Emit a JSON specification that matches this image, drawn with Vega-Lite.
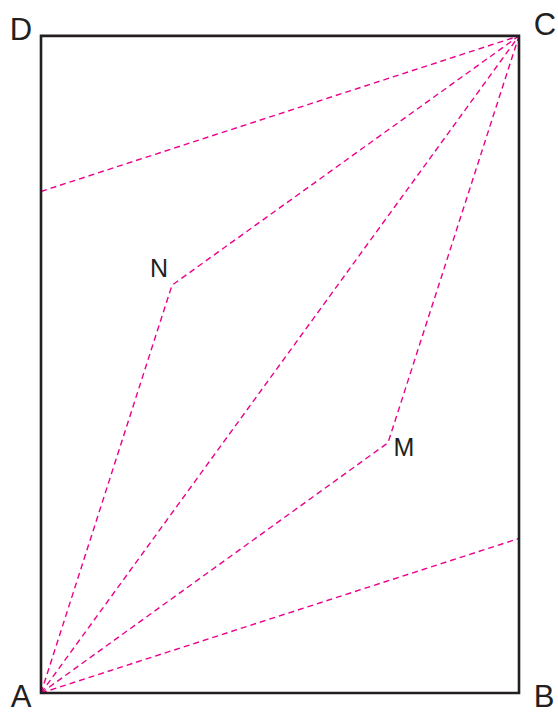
{
  "$schema": "https://vega.github.io/schema/vega-lite/v6.json",
  "autosize": {"type": "fit", "contains": "padding"},
  "width": 558,
  "height": 713,
  "padding": 0,
  "background": "white",
  "config": {"view": {"stroke": null}},
  "datasets": {
    "shapes": [
      {"seg": "rect", "ord": 1, "x": 0, "y": 0},
      {"seg": "rect", "ord": 2, "x": 478, "y": 0},
      {"seg": "rect", "ord": 3, "x": 478, "y": 659},
      {"seg": "rect", "ord": 4, "x": 0, "y": 659},
      {"seg": "rect", "ord": 5, "x": 0, "y": 0}
    ],
    "dashes": [
      {"seg": "PC", "ord": 1, "x": 0, "y": 503},
      {"seg": "PC", "ord": 2, "x": 478, "y": 659},
      {"seg": "AC", "ord": 1, "x": 0, "y": 0},
      {"seg": "AC", "ord": 2, "x": 478, "y": 659},
      {"seg": "ANC", "ord": 1, "x": 0, "y": 0},
      {"seg": "ANC", "ord": 2, "x": 131, "y": 409},
      {"seg": "ANC", "ord": 3, "x": 478, "y": 659},
      {"seg": "AMC", "ord": 1, "x": 0, "y": 0},
      {"seg": "AMC", "ord": 2, "x": 347, "y": 251},
      {"seg": "AMC", "ord": 3, "x": 478, "y": 659},
      {"seg": "AQ", "ord": 1, "x": 0, "y": 0},
      {"seg": "AQ", "ord": 2, "x": 478, "y": 155}
    ],
    "corners": [
      {"name": "A", "x": -20, "y": -5},
      {"name": "B", "x": 503, "y": -5},
      {"name": "C", "x": 504, "y": 669},
      {"name": "D", "x": -20, "y": 664}
    ],
    "points": [
      {"name": "N", "x": 118, "y": 425},
      {"name": "M", "x": 363, "y": 246}
    ]
  },
  "encoding": {
    "x": {"field": "x", "type": "quantitative", "scale": {"domain": [-41, 517], "nice": false, "zero": false}, "axis": null},
    "y": {"field": "y", "type": "quantitative", "scale": {"domain": [-18, 695], "nice": false, "zero": false}, "axis": null}
  },
  "layer": [
    {
      "data": {"name": "dashes"},
      "mark": {"type": "line", "color": "#ec008c", "strokeWidth": 1.4, "strokeDash": [6, 4]},
      "encoding": {"detail": {"field": "seg"}, "order": {"field": "ord"}}
    },
    {
      "data": {"name": "shapes"},
      "mark": {"type": "line", "color": "#231f20", "strokeWidth": 2.6, "strokeJoin": "miter", "strokeCap": "square"},
      "encoding": {"detail": {"field": "seg"}, "order": {"field": "ord"}}
    },
    {
      "data": {"name": "corners"},
      "mark": {"type": "text", "font": "Liberation Sans", "fontSize": 31, "color": "#231f20", "align": "center", "baseline": "middle"},
      "encoding": {"text": {"field": "name"}}
    },
    {
      "data": {"name": "points"},
      "mark": {"type": "text", "font": "Liberation Sans", "fontSize": 25, "color": "#231f20", "align": "center", "baseline": "middle"},
      "encoding": {"text": {"field": "name"}}
    }
  ]
}
